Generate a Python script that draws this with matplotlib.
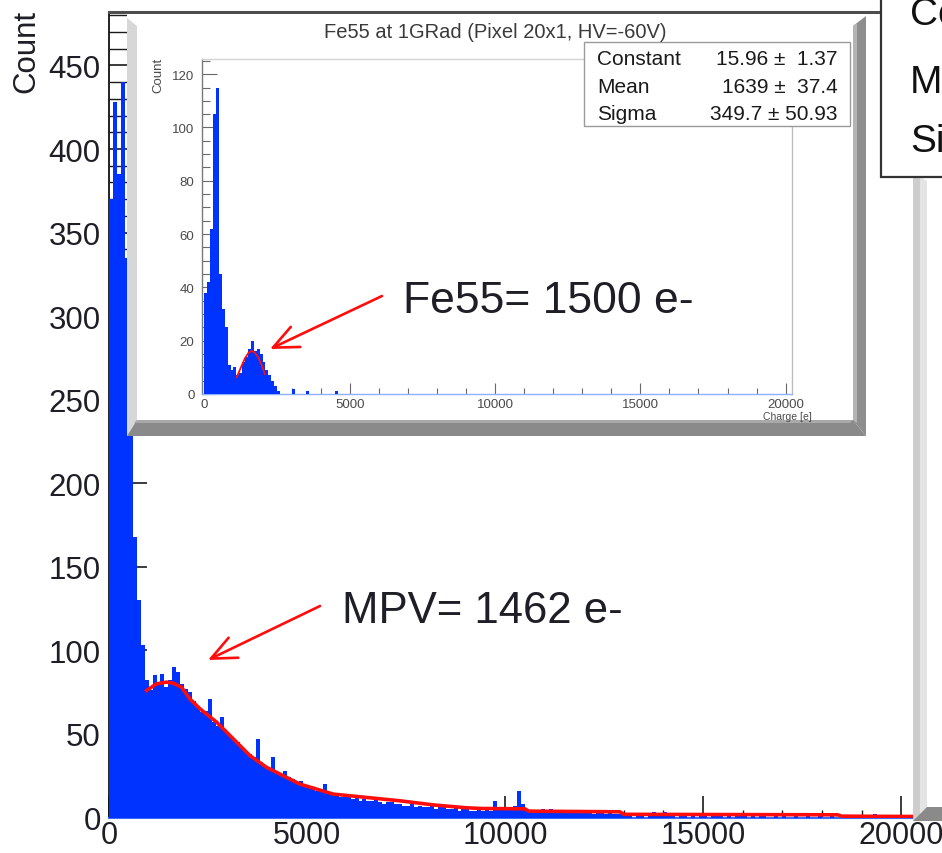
import numpy as np
import matplotlib
matplotlib.use('Agg')
import matplotlib.pyplot as plt
from matplotlib.patches import Polygon, Rectangle, FancyArrowPatch
from matplotlib.ticker import MultipleLocator

plt.rcParams['font.family'] = ['Liberation Sans', 'DejaVu Sans']

#%% Data (100 e- bins)

bin_width = 100

# main histogram (all pixels), counts per bin
counts_0_5k = [370, 428, 385, 440, 335, 228, 168, 130, 103, 82,
               76, 85, 80, 86, 78, 82, 90, 87, 80, 77,
               75, 70, 66, 63, 64, 71, 57, 55, 60, 52,
               49, 47, 45, 42, 40, 38, 36, 47, 33, 31,
               29, 36, 27, 26, 28, 24, 23, 21, 22, 19]
counts_5k_10k = [19, 18, 16, 17, 20, 14, 14, 13, 12, 13,
                 12, 11, 12, 10, 11, 10, 10, 11, 9, 8,
                 9, 9, 8, 8, 7, 7, 8, 6, 7, 6,
                 6, 7, 5, 6, 6, 5, 5, 6, 4, 5,
                 5, 4, 4, 5, 4, 5, 4, 10, 5, 6]
counts_10k_15k = [6, 5, 7, 16, 8, 5, 3, 4, 4, 5,
                  4, 5, 4, 4, 3, 4, 3, 4, 3, 3,
                  4, 3, 2, 3, 3, 2, 3, 2, 2, 3,
                  1, 1, 0, 1, 1, 0, 2, 3, 1, 1,
                  3, 2, 1, 0, 1, 1, 0, 1, 0, 1]
counts_15k_20k = [1, 0, 1, 2, 1, 0, 1, 0, 1, 2,
                  1, 0, 1, 0, 2, 1, 0, 0, 1, 0,
                  1, 0, 0, 1, 0, 0, 1, 0, 0, 1,
                  0, 0, 1, 0, 0, 0, 0, 0, 0, 1,
                  0, 1, 0, 2, 0, 0, 0, 0, 0, 0]

# Landau fit drawn on the main histogram
fit_x = [950, 1200, 1450, 1620, 1830, 2040, 2300, 2720, 3140, 3560, 3980,
         4400, 4820, 5240, 5660, 6500, 7340, 8200, 9030, 9400, 10500,
         10600, 12900, 13000, 18400, 18500, 20300]
fit_y = [76, 80, 81, 80.4, 78, 71, 65, 57, 47, 37, 30,
         25, 20, 17, 14, 12, 10, 7.5, 5.8, 5.4, 5.2,
         3.8, 3.4, 1.9, 1.6, 0.8, 0.6]

# inset: Fe55 spectrum, counts per bin from 0 to 5000 e-
fe55_counts = [38, 42, 62, 105, 115, 45, 32, 25, 11, 9,
               10, 7, 8, 12, 14, 17, 20, 16, 17, 15,
               12, 9, 7, 5, 3, 1, 0, 0, 0, 0,
               2, 0, 0, 0, 0, 1, 0, 0, 0, 0,
               0, 0, 0, 0, 0, 1, 0, 0, 0, 0]

# gaussian fit drawn on the inset
fe55_fit_x = [1110, 1250, 1400, 1520, 1630, 1740, 1860, 1980, 2080]
fe55_fit_y = [6.3, 9.8, 13.5, 15.5, 16.2, 15.5, 13.6, 10.6, 7.5]

main_xticks = [0, 5000, 10000, 15000, 20000]
main_yticks = [0, 50, 100, 150, 200, 250, 300, 350, 400, 450]
inset_xticks = [0, 5000, 10000, 15000, 20000]
inset_yticks = [0, 20, 40, 60, 80, 100, 120]

stat_names = ['Constant', 'Mean', 'Sigma']
stat_values = [u'15.96 \u00b1  1.37', u'1639 \u00b1  37.4', u'349.7 \u00b1 50.93']
main_stat_names = ['Constant', 'MPV', 'Sigma']

title = 'Fe55 at 1GRad (Pixel 20x1, HV=-60V)'

main_counts = counts_0_5k + counts_5k_10k + counts_10k_15k + counts_15k_20k
main_edges = np.arange(len(main_counts) + 1) * bin_width
fe55_edges = np.arange(len(fe55_counts) + 1) * bin_width

#%% Figure helpers (positions given in pixels of the 942x854 picture)

W, H = 942, 854
blue = '#0033ff'
red = '#ff0d0d'
textcol = '#1e1e26'

fig = plt.figure(figsize=(W / 100, H / 100), dpi=100)


def fx(x):
    return x / W


def fy(y):
    return 1 - y / H


def add_poly(pts, color, z):
    p = Polygon([(fx(x), fy(y)) for x, y in pts], closed=True,
                transform=fig.transFigure, facecolor=color,
                edgecolor='none', zorder=z)
    fig.add_artist(p)


#%% Main histogram

ax = fig.add_axes([fx(109), fy(818.5), (913 - 109) / W, (818.5 - 13) / H])
ax.set_zorder(1)

ax.stairs(main_counts, main_edges, fill=True, color=blue, lw=0, zorder=3)
ax.plot(fit_x, fit_y, color=red, lw=2.6, zorder=4)

ax.set_xlim(0, 20300)
ax.set_ylim(0, 482)
ax.set_xticks(main_xticks)
ax.set_yticks(main_yticks)
ax.xaxis.set_minor_locator(MultipleLocator(1000))
ax.yaxis.set_minor_locator(MultipleLocator(10))

ax.tick_params(axis='both', which='both', direction='in', colors='#1a1a1a',
               labelcolor=textcol, labelsize=22.5)
ax.tick_params(axis='x', which='major', length=16, width=1.2, pad=2,
               labelsize=22)
ax.tick_params(axis='x', which='minor', length=6, width=1.0)
ax.tick_params(axis='y', which='major', length=27, width=1.2, pad=6)
ax.tick_params(axis='y', which='minor', length=13, width=1.0)

ax.spines['right'].set_visible(False)
ax.spines['top'].set_color('#4d4d4d')
ax.spines['top'].set_linewidth(2.2)
ax.spines['left'].set_color('#111111')
ax.spines['left'].set_linewidth(1.3)
ax.spines['bottom'].set_color('#3d6bff')
ax.spines['bottom'].set_linewidth(1.5)

fig.text(fx(26), fy(10), 'Count', rotation=90, ha='center', va='top',
         fontsize=22.5, color=textcol)

# canvas bevel on the right and the cut-off stats box
add_poly([(913, 174), (920, 178), (920, 816), (913, 822)], '#cdcdcd', 2)
add_poly([(920, 178), (927, 182), (927, 809), (920, 816)], '#e4e4e4', 2)
add_poly([(913, 822), (927, 808), (942, 808), (942, 822)], '#8a8a8a', 2)

box = Rectangle((fx(881), fy(178)), (970 - 881) / W, (178 + 20) / H,
                transform=fig.transFigure, facecolor='white',
                edgecolor='#333333', lw=1.6, zorder=2)
fig.add_artist(box)
for name, yb in zip(main_stat_names, [25, 93, 152]):
    fig.text(fx(910), fy(yb), name, ha='left', va='baseline', fontsize=28,
             color='#111111', zorder=2.5)

#%% Inset panel with bevel

add_poly([(127, 15), (866, 15), (866, 437), (127, 437)], 'white', 3)
add_poly([(127, 19), (137, 27), (137, 421), (127, 437)], '#d7d7d7', 3)
add_poly([(853, 27), (866, 17), (866, 437), (853, 421)], '#8e8e8e', 3)
add_poly([(853, 27), (857, 24), (857, 424), (853, 421)], '#b4b4b4', 3)
add_poly([(127, 437), (137, 421), (853, 421), (866, 437)], '#8a8a8a', 3)
add_poly([(137, 421), (853, 421), (850, 424), (134, 424)], '#a9a9a9', 3)

ax2 = fig.add_axes([fx(201.5), fy(395), (791.5 - 201.5) / W, (395 - 60) / H])
ax2.set_zorder(4)

ax2.stairs(fe55_counts, fe55_edges, fill=True, color=blue, lw=0, zorder=3)
ax2.plot(fe55_fit_x, fe55_fit_y, color=red, lw=1.3, zorder=4)

ax2.set_xlim(-100, 20200)
ax2.set_ylim(0, 125.7)
ax2.set_xticks(inset_xticks)
ax2.set_yticks(inset_yticks)
ax2.xaxis.set_minor_locator(MultipleLocator(1000))
ax2.yaxis.set_minor_locator(MultipleLocator(5))

ax2.tick_params(axis='both', which='both', direction='in', colors='#6a6a6a',
                labelcolor='#4a4a4a', labelsize=9.5, width=0.8)
ax2.tick_params(axis='x', which='major', length=8, pad=3)
ax2.tick_params(axis='x', which='minor', length=4.3)
ax2.tick_params(axis='y', which='major', length=11, pad=5)
ax2.tick_params(axis='y', which='minor', length=5.5)

ax2.spines['left'].set_color('#7a7a7a')
ax2.spines['top'].set_color('#d2d2d2')
ax2.spines['right'].set_color('#bdbdbd')
ax2.spines['bottom'].set_color('#8fb0ff')
for s in ax2.spines.values():
    s.set_linewidth(1.0)

fig.text(fx(158), fy(58), 'Count', rotation=90, ha='center', va='top',
         fontsize=9.5, color='#4a4a4a', zorder=5)
fig.text(fx(812), fy(417), 'Charge [e]', ha='right', va='center',
         fontsize=7.5, color='#4a4a4a', zorder=5)
fig.text(fx(495), fy(38), title, ha='center', va='baseline',
         fontsize=14.5, color='#3a3a3a', zorder=5)

# fit statistics of the inset
sbox = Rectangle((fx(584), fy(127)), (850 - 584) / W, (127 - 43) / H,
                 transform=fig.transFigure, facecolor='white',
                 edgecolor='#9a9a9a', lw=1.0, zorder=5)
fig.add_artist(sbox)
for name, val, yb in zip(stat_names, stat_values, [65, 93, 120]):
    fig.text(fx(597), fy(yb), name, ha='left', va='baseline', fontsize=15,
             color='#1a1a1a', zorder=6)
    fig.text(fx(838), fy(yb), val, ha='right', va='baseline', fontsize=15,
             color='#1a1a1a', zorder=6)

#%% Annotations

fig.text(fx(403), fy(313), 'Fe55= 1500 e-', ha='left', va='baseline',
         fontsize=32, color=textcol, zorder=7)
fig.text(fx(342), fy(623), 'MPV= 1462 e-', ha='left', va='baseline',
         fontsize=31.5, color=textcol, zorder=7)

for (x0, y0), (x1, y1) in [((382, 297), (270, 350)),
                           ((320, 607), (208, 661))]:
    arr = FancyArrowPatch(posA=(fx(x0), fy(y0)), posB=(fx(x1), fy(y1)),
                          transform=fig.transFigure,
                          arrowstyle='->,head_length=0.9,head_width=0.4',
                          mutation_scale=20, color=red, lw=1.9,
                          shrinkA=0, shrinkB=0, zorder=7)
    fig.add_artist(arr)

fig.savefig('out.png', dpi=100)
